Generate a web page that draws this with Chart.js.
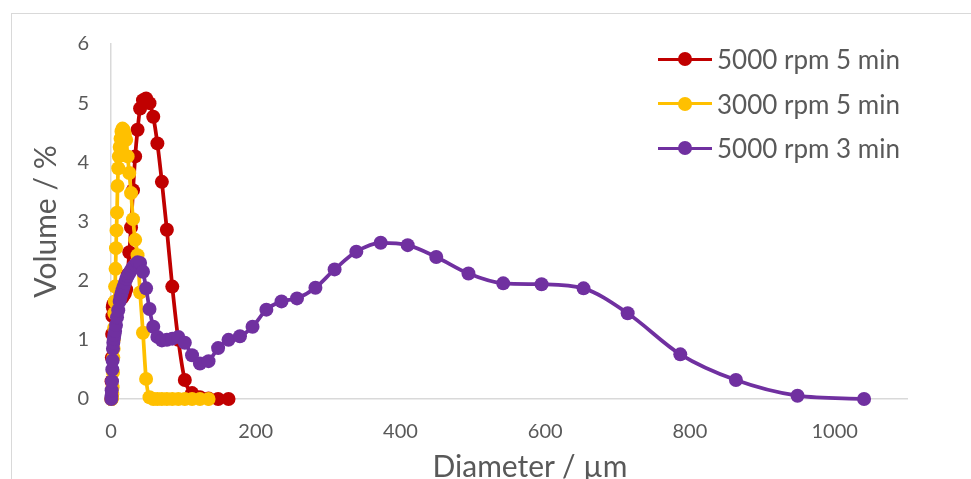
<!DOCTYPE html>
<html>
<head>
<meta charset="utf-8">
<script src="https://cdn.jsdelivr.net/npm/chart.js@4.4.1/dist/chart.umd.min.js"></script>
<style>
html,body{margin:0;padding:0;background:#fff;}
#wrap{position:relative;width:971px;height:479px;overflow:hidden;font-family:Lato,'Open Sans',sans-serif;color:#595959;background:#fff;}
#frame{position:absolute;left:11px;top:13px;right:-10px;bottom:-10px;border-left:1.5px solid #d9d9d9;border-top:1.5px solid #d9d9d9;}
canvas{position:absolute;left:0;top:0;}
#legend{position:absolute;left:658px;top:37px;}
.row{display:flex;align-items:center;height:44.5px;}
.key{position:relative;width:54px;height:14px;margin-right:5px;}
.key .ln{position:absolute;left:0;right:0;top:5.5px;height:3px;}
.key .dot{position:absolute;left:20px;top:0;width:14px;height:14px;border-radius:50%;}
.lbl{font-size:26px;line-height:30px;white-space:nowrap;}
#xtitle{position:absolute;left:330px;width:400px;text-align:center;top:447px;font-size:30px;line-height:36px;white-space:nowrap;}
</style>
</head>
<body>
<div id="wrap">
  <canvas id="c" width="971" height="479"></canvas>
  <div id="frame"></div>
  <div id="legend"></div>
  <div id="xtitle">Diameter / µm</div>
</div>
<script>
// ---- data ----
const seriesNames = ['5000 rpm 5 min', '3000 rpm 5 min', '5000 rpm 3 min'];

const diam5000rpm5min = [0.5, 0.8, 1.2, 1.6, 2.0, 2.5, 3.2, 4.3, 6.0, 9.1, 10.9, 13.2, 15.9, 19.1, 21, 23, 25.3, 27.7, 30.4, 33.4, 36.7, 40.2, 44.2, 48.5, 53.2, 58.4, 64.1, 70.3, 77.2, 84.7, 93, 102, 112, 122.9, 134.8, 148, 162.4];
const vol5000rpm5min  = [0, 0.3, 0.7, 1.1, 1.4, 1.55, 1.6, 1.62, 1.64, 1.65, 1.68, 1.7, 1.72, 1.78, 1.85, 2.1, 2.48, 2.9, 3.53, 4.1, 4.55, 4.91, 5.05, 5.08, 5.0, 4.77, 4.32, 3.67, 2.86, 1.9, 1.0, 0.32, 0.1, 0.03, 0.01, 0, 0];

const diam3000rpm5min = [0.5, 1.0, 1.5, 1.8, 2.2, 2.7, 3.2, 3.6, 3.9, 4.3, 4.7, 5.2, 5.7, 6.3, 6.9, 7.6, 8.3, 9.1, 10, 10.9, 12, 13.2, 14.5, 15.9, 17.4, 19.1, 21, 23, 25.3, 27.7, 30.4, 33.4, 36.7, 40.2, 44.2, 48.5, 53.2, 58.4, 64.1, 70.3, 77.2, 84.7, 93, 102, 112, 122.9, 134.8];
const vol3000rpm5min  = [0, 0, 0.02, 0.08, 0.2, 0.45, 0.7, 0.85, 1.0, 1.2, 1.45, 1.65, 1.9, 2.2, 2.55, 2.85, 3.15, 3.6, 3.9, 4.1, 4.26, 4.4, 4.52, 4.57, 4.55, 4.48, 4.38, 4.1, 3.82, 3.48, 3.04, 2.69, 2.43, 1.8, 1.12, 0.34, 0.03, 0, 0, 0, 0, 0, 0, 0, 0, 0, 0];

const diam5000rpm3min = [0.4, 0.6, 0.9, 1.3, 1.8, 2.2, 2.7, 3.2, 3.9, 4.7, 5.7, 6.9, 8.3, 10, 12, 13.2, 14.5, 15.9, 17.4, 19.1, 21, 23, 25.3, 27.7, 30.4, 33.4, 36.7, 40.2, 44.2, 48.5, 53.2, 58.4, 64.1, 70.3, 77.2, 84.7, 93, 102, 112, 122.9, 134.8, 148, 162.4, 178.2, 195.6, 214.7, 235.6, 257, 282.5, 309, 339, 372.7, 410, 449.5, 494, 542, 595, 653, 714, 786.7, 863.6, 948.7, 1040.7];
const vol5000rpm3min  = [0, 0.05, 0.15, 0.3, 0.5, 0.65, 0.85, 0.95, 1.02, 1.08, 1.15, 1.25, 1.38, 1.5, 1.65, 1.72, 1.78, 1.84, 1.9, 1.96, 2.03, 2.08, 2.13, 2.18, 2.23, 2.27, 2.31, 2.3, 2.15, 1.87, 1.52, 1.22, 1.05, 0.99, 1.0, 1.02, 1.05, 0.95, 0.74, 0.6, 0.64, 0.86, 1.0, 1.06, 1.22, 1.51, 1.65, 1.7, 1.88, 2.19, 2.49, 2.64, 2.6, 2.4, 2.12, 1.955, 1.94, 1.87, 1.45, 0.755, 0.32, 0.056, 0];

const xTickValues = [0, 200, 400, 600, 800, 1000];
const yTickValues = [0, 1, 2, 3, 4, 5, 6];

// ---- styling ----
const seriesColors = ['#C00000', '#FFC000', '#7030A0'];
const textColor = '#595959';
const axisColor = '#d9d9d9';

function pts(xs, ys) { return xs.map((x, i) => ({ x: x, y: ys[i] })); }

const seriesData = [
  pts(diam5000rpm5min, vol5000rpm5min),
  pts(diam3000rpm5min, vol3000rpm5min),
  pts(diam5000rpm3min, vol5000rpm3min)
];

Chart.defaults.font.family = "Lato, 'Open Sans', sans-serif";
Chart.defaults.color = textColor;

const datasets = seriesNames.map((name, i) => ({
  label: name,
  data: seriesData[i],
  borderColor: seriesColors[i],
  backgroundColor: seriesColors[i],
  pointBackgroundColor: seriesColors[i],
  pointBorderWidth: 0,
  pointRadius: 7,
  pointHoverRadius: 7,
  borderWidth: 3.75,
  cubicInterpolationMode: 'monotone',
  fill: false,
  clip: false,
  order: seriesNames.length - i
}));

new Chart(document.getElementById('c'), {
  type: 'line',
  data: { datasets: datasets },
  options: {
    responsive: false,
    animation: false,
    events: [],
    layout: { padding: { top: 44, right: 64, left: 0, bottom: 0 } },
    plugins: { legend: { display: false }, tooltip: { enabled: false }, title: { display: false } },
    scales: {
      x: {
        type: 'linear',
        min: 0,
        max: 1100,
        afterBuildTicks: s => { s.ticks = xTickValues.map(v => ({ value: v })); },
        afterFit: s => { s.height = 80; },
        ticks: { color: textColor, font: { size: 20 }, padding: 21, maxRotation: 0, autoSkip: false,
                 callback: v => String(v) },
        grid: { display: true, drawOnChartArea: false, drawTicks: false },
        border: { display: true, color: axisColor, width: 1.5 }
      },
      y: {
        type: 'linear',
        min: 0,
        max: 6,
        afterBuildTicks: s => { s.ticks = yTickValues.map(v => ({ value: v })); },
        afterFit: s => { s.width = 111; },
        ticks: { color: textColor, font: { size: 20 }, padding: 22, callback: v => String(v) },
        grid: { display: true, drawOnChartArea: false, drawTicks: false },
        border: { display: true, color: axisColor, width: 1.5 },
        title: { display: true, text: 'Volume / %', color: textColor, font: { size: 30 }, padding: { top: 28, bottom: 0 } }
      }
    }
  }
});

// HTML legend built from the series names/colours
const legend = document.getElementById('legend');
seriesNames.forEach((name, i) => {
  const row = document.createElement('div');
  row.className = 'row';
  row.innerHTML = '<div class="key"><div class="ln" style="background:' + seriesColors[i] + '"></div><div class="dot" style="background:' + seriesColors[i] + '"></div></div><div class="lbl"></div>';
  row.querySelector('.lbl').textContent = name;
  legend.appendChild(row);
});
</script>
</body>
</html>
